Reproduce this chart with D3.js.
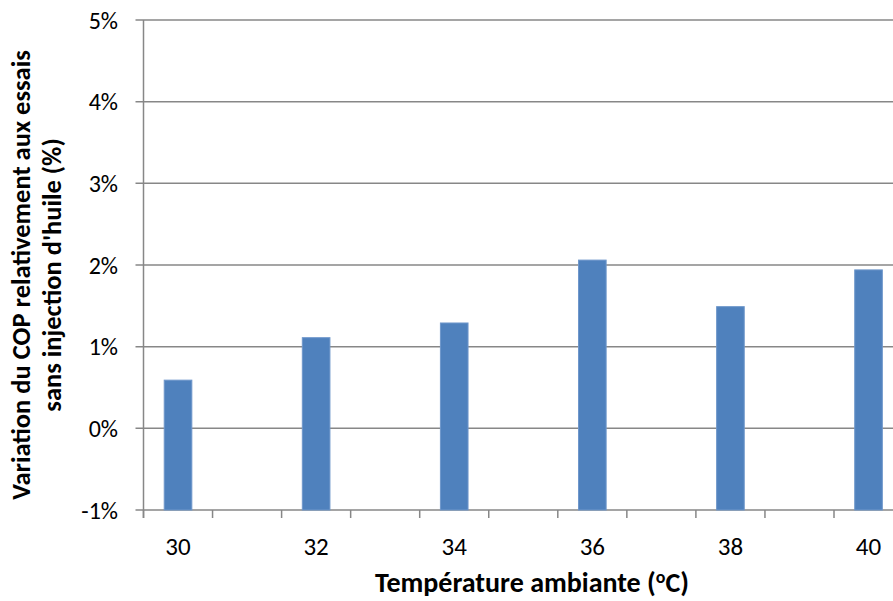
<!DOCTYPE html>
<html>
<head>
<meta charset="utf-8">
<script src="https://cdn.jsdelivr.net/npm/d3@7"></script>
<style>
  html, body { margin: 0; padding: 0; background: #fff; overflow: hidden; }
  svg { display: block; }
  text { font-family: Calibri, Carlito, Lato, sans-serif; fill: #000; }
</style>
</head>
<body>
<script>
// ---- data ----
const categories = [30, 31, 32, 33, 34, 35, 36, 37, 38, 39, 40];
const values = [0.59, null, 1.11, null, 1.29, null, 2.06, null, 1.49, null, 1.94];
const tickLabels = ["30", "32", "34", "36", "38", "40"];
const yTicks = [-1, 0, 1, 2, 3, 4, 5];
const xTitle = "Température ambiante (";
const yTitleLines = ["Variation du COP relativement aux essais", "sans injection d'huile (%)"];

(function () {
const W = 893, H = 601;
const svg = d3.select("body").append("svg").attr("width", W).attr("height", H);

const pLeft = 143.5, pTop = 20, pBottom = 510;
const step = 69.05;
const pRight = pLeft + step * categories.length;

const x = d3.scaleBand().domain(categories).range([pLeft, pRight]).paddingInner(0.6).paddingOuter(0.3);
const y = d3.scaleLinear().domain([-1, 5]).range([pBottom, pTop]);

const gridColor = "#878787";

// gridlines
svg.append("g").selectAll("line").data(yTicks).join("line")
  .attr("x1", pLeft - 8).attr("x2", pRight)
  .attr("y1", d => y(d)).attr("y2", d => y(d))
  .attr("stroke", gridColor).attr("stroke-width", 1.5);

// y axis line
svg.append("line").attr("x1", pLeft).attr("x2", pLeft).attr("y1", pTop).attr("y2", pBottom + 8)
  .attr("stroke", gridColor).attr("stroke-width", 1.5);

// x ticks at band boundaries
const bounds = d3.range(categories.length + 1).map(i => pLeft + i * x.step());
svg.append("g").selectAll("line").data(bounds).join("line")
  .attr("x1", d => d).attr("x2", d => d)
  .attr("y1", pBottom).attr("y2", pBottom + 8)
  .attr("stroke", gridColor).attr("stroke-width", 1.5);

// bars
svg.append("g").selectAll("rect").data(categories.map((c, i) => ({c, v: values[i]})).filter(d => d.v != null))
  .join("rect")
  .attr("x", d => x(d.c)).attr("width", x.bandwidth())
  .attr("y", d => y(d.v)).attr("height", d => y(-1) - y(d.v))
  .attr("fill", "#4F81BD").attr("stroke", "#6f97cb").attr("stroke-width", 1);

// y tick labels
svg.append("g").selectAll("text").data(yTicks).join("text")
  .attr("x", 118).attr("y", d => y(d)).attr("dy", "0.36em")
  .attr("text-anchor", "end").style("font-size", "24px")
  .text(d => d + "%");

// x tick labels
svg.append("g").selectAll("text").data(tickLabels).join("text")
  .attr("x", d => x(+d) + x.bandwidth() / 2).attr("y", 555)
  .attr("text-anchor", "middle").style("font-size", "25px")
  .text(d => d);

// x title
const xt = svg.append("text").attr("x", 532).attr("y", 592).attr("text-anchor", "middle")
  .style("font-size", "28px").style("font-weight", "bold");
xt.append("tspan").text(xTitle);
xt.append("tspan").attr("dy", -9).style("font-size", "18px").text("o");
xt.append("tspan").attr("dy", 9).text("C)");

// y title
const yt = svg.append("text").attr("transform", `translate(0,${(pTop + pBottom) / 2 + 10}) rotate(-90)`)
  .attr("text-anchor", "middle").style("font-size", "26.5px").style("font-weight", "bold");
yt.selectAll("tspan").data(yTitleLines).join("tspan")
  .attr("x", 0).attr("y", (d, i) => 30 + i * 31).text(d => d);
})();
</script>
</body>
</html>
